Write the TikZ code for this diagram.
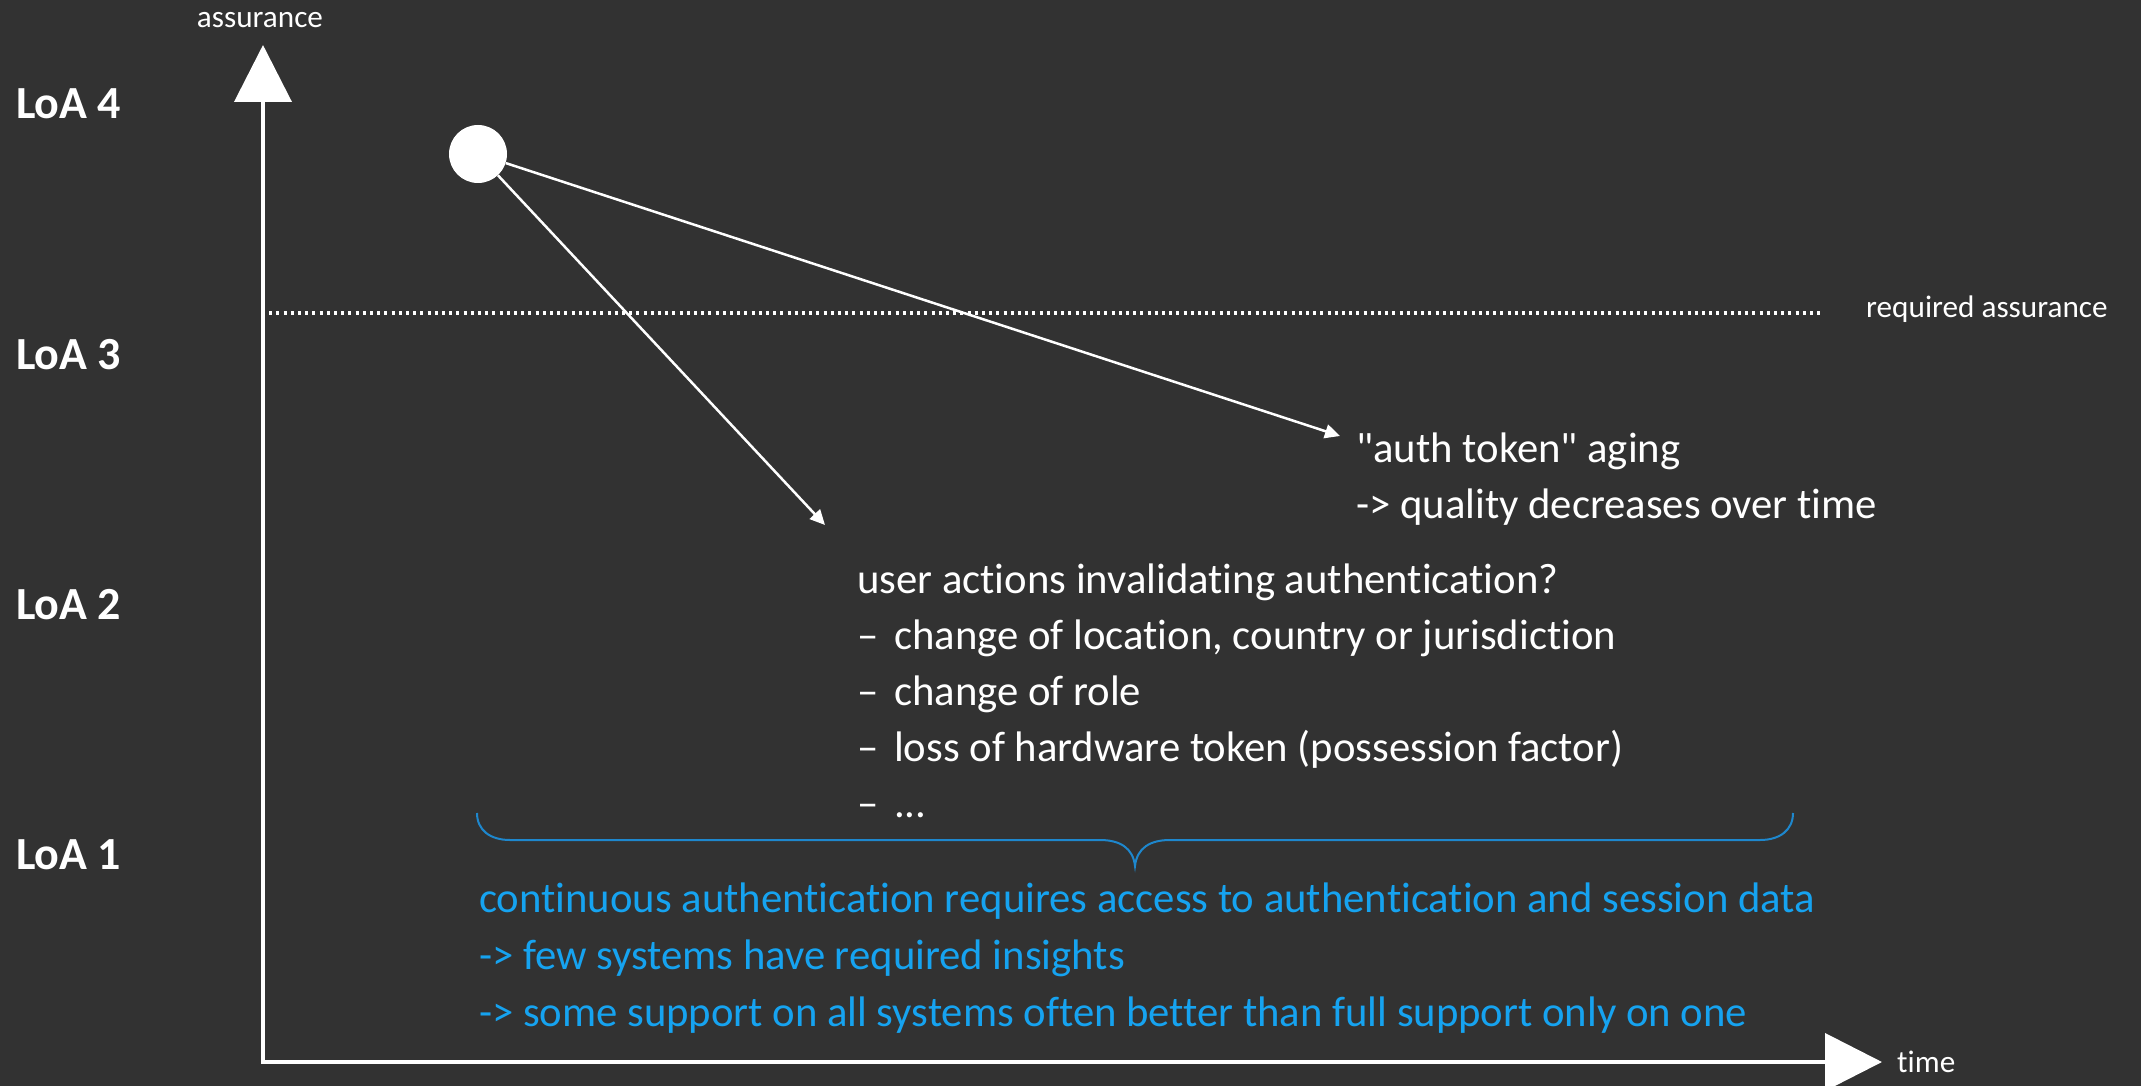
\documentclass[tikz,border=0pt]{standalone}
\usepackage{fontspec}
\setmainfont[Ligatures={NoCommon}]{Carlito}
\usetikzlibrary{arrows.meta}
\definecolor{bg}{RGB}{50,50,50}
\definecolor{bluetxt}{RGB}{22,163,240}
\definecolor{bracecol}{RGB}{30,135,205}
\begin{document}
\begin{tikzpicture}[x=1pt,y=-1pt,
  txt/.style={font=\fontsize{42.7}{50}\selectfont, text=white, anchor=base west, inner sep=0pt},
  bluet/.style={txt, text=bluetxt},
  small/.style={font=\fontsize{31.2}{37}\selectfont, text=white, inner sep=0pt},
  loa/.style={font=\fontsize{46}{55}\selectfont\bfseries, text=white, anchor=base west, inner sep=0pt},
  axis/.style={draw=white, line width=4pt, line join=miter, {Triangle[length=57pt,width=57pt]}-{Triangle[length=57pt,width=57pt]}},
  thinarrow/.style={draw=white, line width=2.5pt, -{Triangle[length=15pt,width=14pt]}},
  dotline/.style={draw=white, line width=3.2pt, dash pattern=on 3pt off 4.2pt},
  bracestyle/.style={draw=bracecol, line width=2pt}
]
\fill[bg] (0,0) rectangle (2141,1086);
\useasboundingbox (0,0) rectangle (2141,1086);

% axes
\coordinate (ytop) at (263,45);
\coordinate (orig) at (263,1062);
\coordinate (xend) at (1882,1062);
\draw[axis] (ytop) -- (orig) -- (xend);

\node[small, anchor=base] (ylab) at (260,28) {assurance};
\node[small, anchor=base west] (xlab) at (1897,1072) {time};

% LoA labels
\node[loa] (loa4) at (16,119) {LoA 4};
\node[loa] (loa3) at (16,369) {LoA 3};
\node[loa] (loa2) at (16,619) {LoA 2};
\node[loa] (loa1) at (16,869) {LoA 1};

% required assurance
\coordinate (dl) at (262,313);
\coordinate (dr) at (1823,313);
\draw[dotline] (dl) -- (dr);
\node[small, anchor=base west] (req) at (1866,317) {required assurance};

% circle and arrows
\node[circle, fill=white, minimum size=58pt, inner sep=0pt] (c) at (478,154) {};
\coordinate (t1) at (1340,436);
\coordinate (t2) at (825,525);
\draw[thinarrow] (c) -- (t1);
\draw[thinarrow] (c) -- (t2);

% auth token text
\node[txt] (a1) at (1356,462) {\textquotedbl auth token\textquotedbl{} aging};
\node[txt] (a2) at (1356,518) {-> quality decreases over time};

% user actions
\node[txt] (u1) at (857,593) {user actions invalidating authentication?};
\node[txt] (u2) at (857,649) {\makebox[37pt][l]{–}change of location, country or jurisdiction};
\node[txt] (u3) at (857,705) {\makebox[37pt][l]{–}change of role};
\node[txt] (u4) at (857,761) {\makebox[37pt][l]{–}loss of hardware token (possession factor)};
\node[txt] (u5) at (857,817) {\makebox[37pt][l]{–}...};

% brace
\coordinate (bl) at (477,813);
\coordinate (bm) at (1135,866);
\coordinate (br) at (1793,813);
\draw[bracestyle] (bl) .. controls (477,830) and (490,840) .. (510,840) -- (1100,840)
   .. controls (1120,840) and (1133,848) .. (bm)
   .. controls (1137,848) and (1150,840) .. (1170,840) -- (1760,840)
   .. controls (1780,840) and (1793,830) .. (br);

% blue text
\node[bluet] (b1) at (479,912) {continuous authentication requires access to authentication and session data};
\node[bluet] (b2) at (479,969) {-> few systems have required insights};
\node[bluet] (b3) at (479,1026) {-> some support on all systems often better than full support only on one};
\end{tikzpicture}
\end{document}
